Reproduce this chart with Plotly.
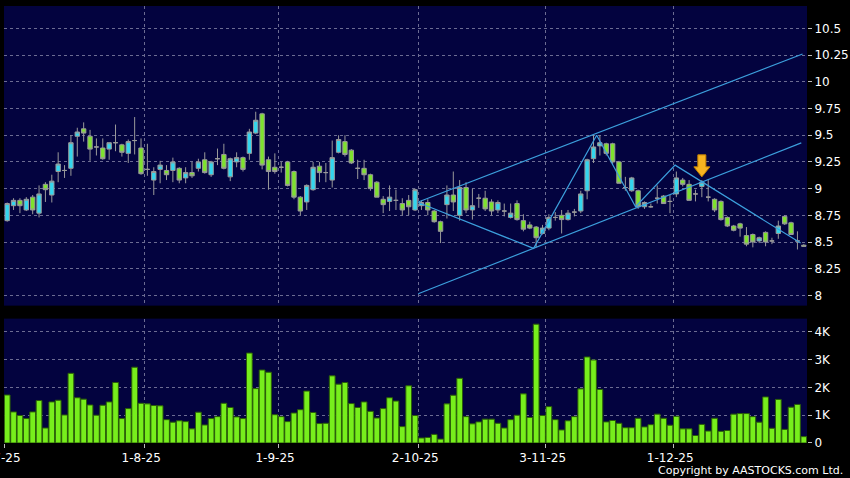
"""Daily candlestick chart with volume panel, AASTOCKS style."""

import plotly.graph_objects as go

# --- data -------------------------------------------------------------------
# one entry per trading day, 2 Jul 2025 .. 31 Dec 2025
opens = [
    8.70, 8.84, 8.89, 8.80, 8.92, 8.77, 9.04, 8.94, 9.16, 9.17,
    9.19, 9.49, 9.56, 9.49, 9.39, 9.38, 9.37, 9.43, 9.41, 9.33,
    9.45, 9.38, 9.18, 9.08, 9.18, 9.17, 9.17, 9.19, 9.10, 9.15,
    9.19, 9.27, 9.13, 9.28, 9.32, 9.11, 9.25, 9.29, 9.33, 9.52,
    9.70, 9.27, 9.20, 9.20, 9.25, 9.16, 8.92, 8.875, 8.99, 9.21,
    9.15, 9.08, 9.34, 9.44, 9.36, 9.19, 9.19, 9.13, 9.06, 8.90,
    8.88, 8.89, 8.86, 8.89, 8.80, 8.84, 8.87, 8.79, 8.69, 8.85,
    8.94, 8.75, 9.01, 8.80, 8.91, 8.91, 8.875, 8.80, 8.79, 8.73,
    8.86, 8.70, 8.66, 8.64, 8.58, 8.63, 8.73, 8.75, 8.71, 8.78,
    8.79, 8.98, 9.28, 9.40, 9.42, 9.42, 9.25, 9.01, 8.98, 8.98,
    8.83, 8.83, 8.91, 8.93, 8.88, 8.95, 9.08, 9.04, 8.95, 9.02,
    8.92, 8.90, 8.88, 8.73, 8.65, 8.67, 8.56, 8.57, 8.51, 8.59,
    8.51, 8.58, 8.74, 8.68, 8.51, 8.47,
]
highs = [
    8.87, 8.91, 8.91, 8.92, 8.94, 9.03, 9.06, 9.13, 9.34, 9.22,
    9.50, 9.57, 9.62, 9.55, 9.47, 9.47, 9.43, 9.60, 9.42, 9.46,
    9.67, 9.47, 9.42, 9.20, 9.26, 9.22, 9.29, 9.20, 9.20, 9.25,
    9.28, 9.34, 9.26, 9.375, 9.42, 9.29, 9.34, 9.30, 9.56, 9.72,
    9.71, 9.30, 9.33, 9.25, 9.26, 9.17, 8.93, 9.04, 9.25, 9.25,
    9.24, 9.45, 9.50, 9.50, 9.37, 9.27, 9.27, 9.14, 9.07, 8.93,
    9.03, 8.99, 8.91, 8.94, 9.00, 8.89, 8.90, 8.80, 8.70, 9.03,
    9.16, 9.08, 9.06, 9.00, 8.95, 8.98, 8.90, 8.89, 8.86, 8.86,
    8.89, 8.76, 8.69, 8.65, 8.66, 8.76, 8.78, 8.80, 8.80, 8.81,
    8.98, 9.28, 9.50, 9.50, 9.43, 9.43, 9.26, 9.11, 9.11, 8.99,
    8.88, 8.86, 9.03, 8.94, 8.94, 9.16, 9.10, 9.08, 8.99, 9.08,
    9.08, 8.91, 8.89, 8.74, 8.66, 8.68, 8.64, 8.58, 8.55, 8.60,
    8.54, 8.70, 8.75, 8.69, 8.60, 8.48,
]
lows = [
    8.69, 8.80, 8.77, 8.79, 8.76, 8.73, 8.875, 8.87, 9.06, 9.10,
    9.12, 9.30, 9.44, 9.26, 9.31, 9.27, 9.27, 9.35, 9.30, 9.24,
    9.32, 9.13, 9.12, 8.94, 9.05, 9.08, 9.06, 9.05, 9.05, 9.10,
    9.16, 9.14, 9.11, 9.22, 9.18, 9.07, 9.20, 9.16, 9.27, 9.51,
    9.18, 8.99, 9.14, 9.15, 9.02, 8.90, 8.75, 8.80, 8.98, 9.06,
    9.06, 9.01, 9.33, 9.30, 9.23, 9.09, 9.08, 8.98, 8.92, 8.77,
    8.79, 8.80, 8.75, 8.75, 8.79, 8.80, 8.75, 8.68, 8.49, 8.72,
    8.79, 8.70, 8.77, 8.71, 8.82, 8.79, 8.75, 8.77, 8.74, 8.72,
    8.70, 8.60, 8.62, 8.45, 8.57, 8.61, 8.70, 8.58, 8.70, 8.74,
    8.77, 8.90, 9.24, 9.31, 9.31, 9.23, 9.05, 8.98, 8.97, 8.81,
    8.81, 8.82, 8.86, 8.86, 8.77, 8.92, 9.02, 8.89, 8.88, 8.92,
    8.88, 8.78, 8.70, 8.64, 8.60, 8.55, 8.46, 8.45, 8.49, 8.46,
    8.48, 8.53, 8.66, 8.57, 8.43, 8.46,
]
closes = [
    8.86, 8.89, 8.84, 8.90, 8.80, 8.95, 8.99, 9.07, 9.23, 9.17,
    9.43, 9.53, 9.52, 9.37, 9.39, 9.28, 9.43, 9.43, 9.34, 9.44,
    9.45, 9.14, 9.18, 9.16, 9.22, 9.13, 9.25, 9.08, 9.15, 9.12,
    9.25, 9.15, 9.25, 9.28, 9.19, 9.28, 9.29, 9.18, 9.53, 9.64,
    9.22, 9.16, 9.16, 9.20, 9.03, 8.92, 8.79, 9.03, 9.20, 9.15,
    9.15, 9.29, 9.46, 9.32, 9.24, 9.19, 9.13, 9.00, 8.92, 8.85,
    8.92, 8.89, 8.80, 8.83, 8.99, 8.87, 8.80, 8.69, 8.60, 8.94,
    8.875, 9.01, 8.80, 8.84, 8.91, 8.81, 8.79, 8.87, 8.79, 8.77,
    8.71, 8.62, 8.63, 8.54, 8.63, 8.73, 8.73, 8.71, 8.77, 8.78,
    8.95, 9.27, 9.39, 9.43, 9.33, 9.25, 9.05, 9.01, 9.10, 8.83,
    8.87, 8.83, 8.91, 8.86, 8.88, 9.10, 9.04, 8.89, 8.95, 9.06,
    8.92, 8.80, 8.71, 8.65, 8.61, 8.63, 8.48, 8.50, 8.54, 8.50,
    8.51, 8.65, 8.67, 8.57, 8.51, 8.46,
]
volumes_k = [
    1.73, 1.12, 0.99, 0.88, 1.12, 1.53, 0.54, 1.48, 1.54, 1.01,
    2.51, 1.63, 1.58, 1.37, 1.00, 1.36, 1.48, 2.18, 0.88, 1.24,
    2.73, 1.43, 1.41, 1.35, 1.34, 0.84, 0.75, 0.80, 0.77, 0.51,
    1.11, 0.65, 0.88, 0.95, 1.43, 1.28, 0.94, 0.88, 3.24, 1.96,
    2.63, 2.55, 1.02, 0.95, 0.77, 1.08, 1.20, 1.87, 1.10, 0.70,
    0.71, 2.42, 2.12, 2.18, 1.42, 1.28, 1.48, 1.14, 0.90, 1.24,
    1.63, 1.51, 0.59, 2.06, 0.99, 0.18, 0.20, 0.31, 0.14, 1.41,
    1.72, 2.33, 0.95, 0.69, 0.76, 0.86, 0.86, 0.71, 0.54, 0.84,
    1.00, 1.77, 0.92, 4.28, 0.99, 1.31, 0.84, 0.47, 0.80, 0.95,
    1.95, 3.10, 2.99, 1.93, 0.76, 0.81, 0.71, 0.55, 0.55, 0.89,
    0.58, 0.66, 1.04, 0.89, 0.64, 0.96, 0.51, 0.51, 0.27, 0.67,
    0.43, 0.89, 0.42, 0.45, 1.04, 1.06, 1.06, 0.95, 0.75, 1.66,
    0.53, 1.57, 0.49, 1.29, 1.39, 0.23,
]

# month ticks: bar index of the first trading day and its label
month_idx = [0, 22, 43, 65, 85, 105]
month_labels = ["2-7-25", "1-8-25", "1-9-25", "2-10-25", "3-11-25", "1-12-25"]

price_ticks = [8, 8.25, 8.5, 8.75, 9, 9.25, 9.5, 9.75, 10, 10.25, 10.5]
price_labels = ["8", "8.25", "8.5", "8.75", "9", "9.25", "9.5", "9.75", "10", "10.25", "10.5"]
vol_ticks = [0, 1, 2, 3, 4]
vol_labels = ["0", "1K", "2K", "3K", "4K"]

# hand-drawn analysis lines (bar index, price)
channel_upper_x = [64.5, 124.8]
channel_upper_y = [8.875, 10.26]
channel_lower_x = [64.5, 124.6]
channel_lower_y = [8.016, 9.428]
zigzag_x = [64.5, 82.6, 92.5, 98.6, 104.8, 124.5]
zigzag_y = [8.87, 8.44, 9.50, 8.83, 9.22, 8.49]

signal_x = 109
signal_y = 9.11

# --- style ------------------------------------------------------------------
BG = "#000000"
PANEL = "#03033f"
GRID = "#6c6c92"
UP = "#33d6ee"
DOWN = "#7ee22e"
WICK = "#9a9a9a"
LINE = "#3c9fdc"
VOL = "#77ee1c"
FONT = dict(family="DejaVu Sans", size=12, color="#ffffff")

bars = list(range(len(closes)))

fig = go.Figure()
fig.add_candlestick(
    x=bars, open=opens, high=highs, low=lows, close=closes,
    increasing=dict(fillcolor=UP, line=dict(color=WICK, width=1)),
    decreasing=dict(fillcolor=DOWN, line=dict(color=WICK, width=1)),
    whiskerwidth=0, showlegend=False, xaxis="x", yaxis="y",
)
for lx, ly in [(channel_upper_x, channel_upper_y),
               (channel_lower_x, channel_lower_y),
               (zigzag_x, zigzag_y)]:
    fig.add_scatter(x=lx, y=ly, mode="lines", line=dict(color=LINE, width=1.2),
                    showlegend=False, hoverinfo="skip", xaxis="x", yaxis="y")

fig.add_bar(x=bars, y=volumes_k, marker=dict(color=VOL, line=dict(color="#2b5e08", width=1)),
            showlegend=False, xaxis="x2", yaxis="y2")

# down arrow at the signal bar, sized in pixels
fig.add_shape(
    type="path", xref="x", yref="y", xsizemode="pixel", ysizemode="pixel",
    xanchor=signal_x, yanchor=signal_y,
    path="M0,0 L-8,10 L-4,10 L-4,22 L4,22 L4,10 L8,10 Z",
    fillcolor="#f6b420", line=dict(color="#c88400", width=1), layer="above",
)

grid_x = [i - 0.5 for i in month_idx]
common_x = dict(range=[-0.5, len(bars) - 0.5], tickvals=grid_x, showgrid=True,
                gridcolor=GRID, griddash="3px,3px", gridwidth=1, zeroline=False,
                showline=False, automargin=False)
common_y = dict(side="right", ticks="outside", ticklen=4, tickcolor="#bbbbbb",
                showgrid=True, gridcolor=GRID, griddash="3px,3px", zeroline=False,
                tickfont=FONT, automargin=False)
fig.update_layout(
    width=850, height=478,
    margin=dict(l=4, r=43, t=6, b=35, autoexpand=False),
    paper_bgcolor=BG, plot_bgcolor=PANEL,
    font=FONT, bargap=0.1, boxgap=0.02,
    xaxis=dict(**common_x, anchor="y", showticklabels=False, ticks="",
               rangeslider=dict(visible=False)),
    xaxis2=dict(**common_x, anchor="y2", matches="x", ticktext=month_labels,
                ticks="outside", ticklen=4, tickcolor="#bbbbbb",
                ticklabelshift=-3, ticklabeloverflow="allow", tickfont=FONT),
    yaxis=dict(**common_y, domain=[0.3143, 1], range=[7.904, 10.71],
               tickvals=price_ticks, ticktext=price_labels),
    yaxis2=dict(**common_y, domain=[0, 0.2846], range=[0, 4.48],
                tickvals=vol_ticks, ticktext=vol_labels),
)
fig.add_annotation(
    text="Copyright by AASTOCKS.com Ltd.", xref="paper", yref="paper",
    x=1.047, y=-0.064, xanchor="right", yanchor="middle", showarrow=False,
    font=dict(family="DejaVu Sans", size=11, color="#ffffff"),
)

# page body: no default margin, black behind the figure
fig.write_html(
    "out.html",
    config={"displayModeBar": False},
    post_script="document.body.style.margin='0';document.body.style.background='#000';",
)
